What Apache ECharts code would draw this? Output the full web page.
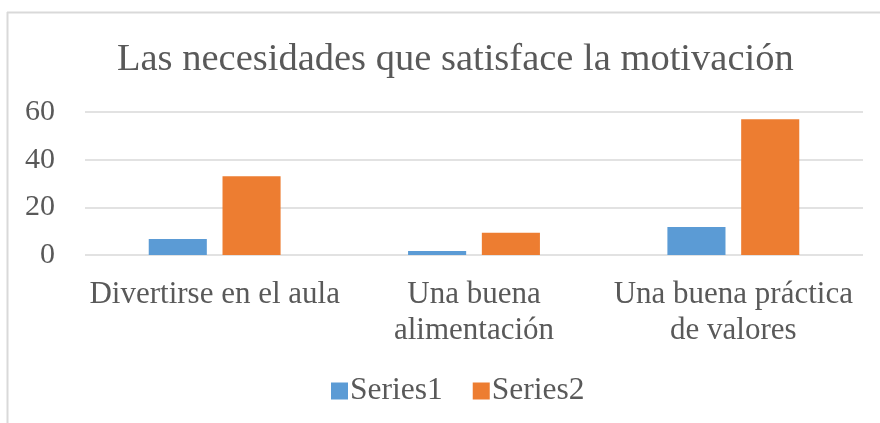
<!DOCTYPE html>
<html>
<head>
<meta charset="utf-8">
<script src="https://cdn.jsdelivr.net/npm/echarts@6/dist/echarts.min.js"></script>
<style>html,body{margin:0;padding:0;background:#fff}#c{width:880px;height:423px}</style>
</head>
<body>
<div id="c"></div>
<script>
const titleText = 'Las necesidades que satisface la motivación';
const categories = ['Divertirse en el aula', 'Una buena\nalimentación', 'Una buena práctica\nde valores'];
const series1 = [6.7, 1.7, 11.8];
const series2 = [33, 9.3, 57];
const seriesNames = ['Series1', 'Series2'];
const yTicks = [0, 20, 40, 60];

const font = 'Liberation Serif, Times New Roman, serif';
const txt = '#595959';
const chart = echarts.init(document.getElementById('c'));
chart.setOption({
  animation: false,
  backgroundColor: '#fff',
  title: {
    text: titleText, left: 112, top: 35,
    textStyle: { fontFamily: font, fontSize: 38.5, fontWeight: 'normal', color: txt }
  },
  legend: {
    data: seriesNames, left: 326, top: 370, itemWidth: 17, itemHeight: 17, itemGap: 30,
    icon: 'rect',
    textStyle: { fontFamily: font, fontSize: 31.5, color: txt, padding: [0, 0, 0, -3] }
  },
  grid: { left: 85, right: 17, top: 112, bottom: 168, containLabel: false },
  xAxis: {
    type: 'category', data: categories,
    axisLine: { show: false }, axisTick: { show: false },
    axisLabel: { fontFamily: font, fontSize: 31, color: txt, margin: 22, lineHeight: 36, interval: 0 }
  },
  yAxis: {
    type: 'value', min: yTicks[0], max: yTicks[yTicks.length - 1], interval: 20,
    axisLine: { show: false }, axisTick: { show: false },
    axisLabel: { fontFamily: font, fontSize: 30, color: txt, margin: 30 },
    splitLine: { lineStyle: { color: '#d9d9d9', width: 1.5 } }
  },
  series: [
    { name: seriesNames[0], type: 'bar', data: series1, barWidth: '22.4%', barGap: '27%', itemStyle: { color: '#5B9BD5' } },
    { name: seriesNames[1], type: 'bar', data: series2, barWidth: '22.4%', barGap: '27%', itemStyle: { color: '#ED7D31' } }
  ],
  graphic: [
    { type: 'line', shape: { x1: 7, y1: 12.5, x2: 880, y2: 12.5 }, style: { stroke: '#d9d9d9', lineWidth: 2 } },
    { type: 'line', shape: { x1: 7.5, y1: 12, x2: 7.5, y2: 423 }, style: { stroke: '#d9d9d9', lineWidth: 2 } }
  ]
});
</script>
</body>
</html>
